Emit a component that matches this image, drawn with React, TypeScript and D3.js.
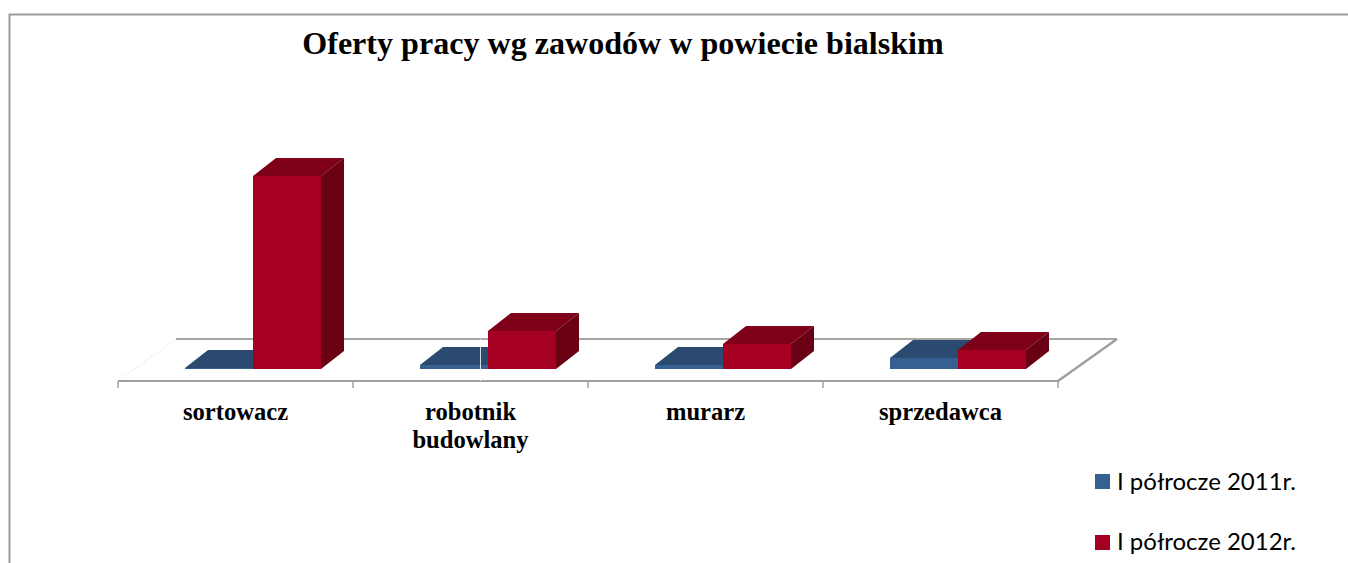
import React from "react";
import * as d3 from "d3";

const categories = ["sortowacz", "robotnik budowlany", "murarz", "sprzedawca"];
const categoryLines = [["sortowacz"], ["robotnik", "budowlany"], ["murarz"], ["sprzedawca"]];
const series2011 = [1, 4, 4, 11];
const series2012 = [193, 38, 25, 19];
const seriesNames = ["I półrocze 2011r.", "I półrocze 2012r."];
const title = "Oferty pracy wg zawodów w powiecie bialskim";

const W = 1348, H = 563;
const frontColors = ["#376092", "#a50021"];
const topColors = ["#2a4a70", "#7e0019"];
const sideColors = ["#234062", "#690014"];
const DX = 23, DY = -18;

const x0 = d3.scaleBand<string>().domain(categories).range([118, 1058]);
const x1 = d3.scaleBand<string>().domain(["0", "1"]).range([67, 203]);
const y = d3.scaleLinear().domain([0, 200]).range([369, 169]);

const poly = (p: [number, number][]) => (d3.line()(p) ?? "") + "Z";

function Bar({ left, w, value, s }: { left: number; w: number; value: number; s: number }) {
  const top = y(value), base = y(0), r = left + w;
  return (
    <g>
      <path d={poly([[left, top], [left + DX, top + DY], [r + DX, top + DY], [r, top]])} fill={topColors[s]} />
      <path d={poly([[r, top], [r + DX, top + DY], [r + DX, base + DY], [r, base]])} fill={sideColors[s]} />
      <rect x={left} y={top} width={w} height={base - top} fill={frontColors[s]} />
    </g>
  );
}

export default function App() {
  const ticks = d3.range(0, categories.length + 1).map((i) => 118 + i * x0.bandwidth());
  const serif = "'Liberation Serif', serif";
  return (
    <svg width={W} height={H} style={{ position: "absolute", left: 0, top: 0, background: "#fff" }}>
      <path d="M9.5 563V14.5H1348" fill="none" stroke="#9a9a9a" strokeWidth={2} />
      <text x={623} y={54} textAnchor="middle" fontFamily={serif} fontWeight="bold" fontSize={32.1}>{title}</text>

      <path d="M118 381L176 339" fill="none" stroke="#e4e4e4" strokeWidth={1} strokeDasharray="2 2" />
      <path d="M176 339H1117" fill="none" stroke="#a6a6a6" strokeWidth={2} />
      <path d="M1058 381L1117 339" fill="none" stroke="#a0a0a0" strokeWidth={2.5} />
      <path d="M118 381H1058" fill="none" stroke="#a0a0a0" strokeWidth={2} />
      {ticks.map((t) => <path key={t} d={`M${t} 381V388`} stroke="#a0a0a0" strokeWidth={1.5} />)}

      {categories.map((c, i) => {
        const bx = x0(c)!;
        return (
          <g key={c}>
            <Bar left={bx + x1("0")!} w={x1.bandwidth()} value={series2011[i]} s={0} />
            <Bar left={bx + x1("1")!} w={x1.bandwidth()} value={series2012[i]} s={1} />
          </g>
        );
      })}
      <path d="M480.5 339V381" stroke="#fff" strokeWidth={1} opacity={0.8} />

      {categories.map((c, i) => (
        <text key={c} textAnchor="middle" fontFamily={serif} fontWeight="bold" fontSize={24.6}>
          {categoryLines[i].map((l, j) => (
            <tspan key={l} x={x0(c)! + x0.bandwidth() / 2} y={420 + j * 28}>{l}</tspan>
          ))}
        </text>
      ))}

      {seriesNames.map((n, i) => (
        <g key={n}>
          <rect x={1095} y={474 + i * 61} width={15} height={15} fill={frontColors[i]} />
          <text x={1117} y={490 + i * 60} fontFamily="Lato, sans-serif" fontSize={24} textLength={179} lengthAdjust="spacingAndGlyphs">{n}</text>
        </g>
      ))}
    </svg>
  );
}
